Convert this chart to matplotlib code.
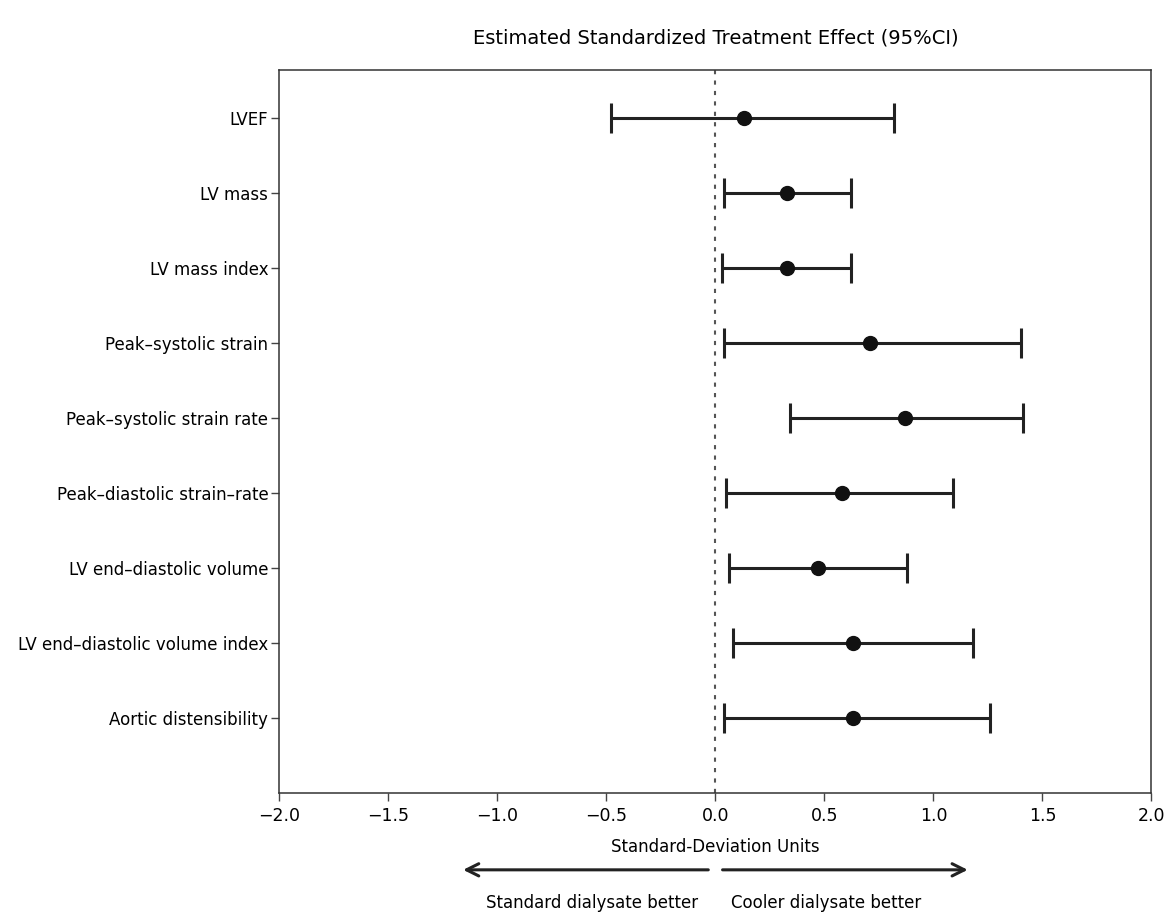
import matplotlib.pyplot as plt

plt.rcParams['font.family'] = ['DejaVu Sans']

# Datos (de arriba hacia abajo)
medidas = [
    "LVEF",
    "LV mass",
    "LV mass index",
    "Peak–systolic strain",
    "Peak–systolic strain rate",
    "Peak–diastolic strain–rate",
    "LV end–diastolic volume",
    "LV end–diastolic volume index",
    "Aortic distensibility",
]
efecto = [0.13, 0.33, 0.33, 0.71, 0.87, 0.58, 0.47, 0.63, 0.63]
ic_inferior = [-0.48, 0.04, 0.03, 0.04, 0.34, 0.05, 0.06, 0.08, 0.04]
ic_superior = [0.82, 0.62, 0.62, 1.40, 1.41, 1.09, 0.88, 1.18, 1.26]

marcas_x = [-2.0, -1.5, -1.0, -0.5, 0.0, 0.5, 1.0, 1.5, 2.0]

fig = plt.figure(figsize=(11.69, 9.18), dpi=100)
ax = fig.add_axes([0.239, 0.136, 0.746, 0.788])

posiciones = list(range(len(medidas), 0, -1))
err_izq = [e - lo for e, lo in zip(efecto, ic_inferior)]
err_der = [hi - e for e, hi in zip(efecto, ic_superior)]

ax.axvline(0, color='#555555', lw=1.5, linestyle=(0, (2, 3)), zorder=1)
ax.errorbar(efecto, posiciones, xerr=[err_izq, err_der], fmt='o', color='#111111',
            ecolor='#222222', elinewidth=2.2, capsize=11, capthick=2.2,
            markersize=10, zorder=3)

ax.set_xlim(-2.0, 2.0)
ax.set_ylim(0.0, len(medidas) + 0.65)
ax.set_xticks(marcas_x)
ax.set_xticklabels([f"{v:.1f}".replace('-', '\u2212') for v in marcas_x], fontsize=12.5)
ax.set_yticks(posiciones)
ax.set_yticklabels(medidas, fontsize=12)
ax.tick_params(axis='both', direction='out', length=6, width=1, color='#444444')
ax.tick_params(axis='x', pad=4)
ax.tick_params(axis='y', pad=2)
for s in ax.spines.values():
    s.set_color('#333333')
    s.set_linewidth(1.1)

ax.set_xlabel("Standard-Deviation Units", fontsize=12, labelpad=9)
ax.set_title("Estimated Standardized Treatment Effect (95%CI)", fontsize=14, pad=19)

# Flechas e indicaciones bajo el eje
trans = ax.get_xaxis_transform()
ax.annotate("", xy=(-1.17, -0.106), xytext=(-0.02, -0.106), xycoords=trans,
            textcoords=trans, annotation_clip=False,
            arrowprops=dict(arrowstyle='->', lw=2.2, color='#222222',
                            mutation_scale=22))
ax.annotate("", xy=(1.17, -0.106), xytext=(0.02, -0.106), xycoords=trans,
            textcoords=trans, annotation_clip=False,
            arrowprops=dict(arrowstyle='->', lw=2.2, color='#222222',
                            mutation_scale=22))
ax.text(-0.08, -0.152, "Standard dialysate better", transform=trans,
        ha='right', va='center', fontsize=12)
ax.text(0.07, -0.152, "Cooler dialysate better", transform=trans,
        ha='left', va='center', fontsize=12)

fig.savefig("out.png", dpi=100)
